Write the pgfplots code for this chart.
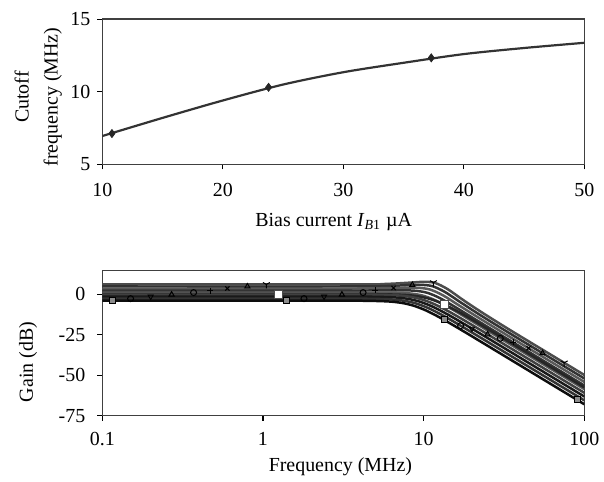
\documentclass[border=0pt]{standalone}
\usepackage{fontspec}
\setmainfont{Liberation Serif}
\usepackage{pgfplots}
\pgfplotsset{compat=1.18}
\usetikzlibrary{plotmarks}

\pgfplotsset{
  excelbox/.style={
    scale only axis,
    width=241bp, height=72.5bp,
    axis line style={black!75, line width=0.8pt},
    tick align=outside,
    xtick pos=bottom, ytick pos=left,
    major tick length=2.5bp,
    tick style={black, line width=0.6pt},
    /pgf/number format/assume math mode=true,
    tick label style={font=\fontsize{10}{12}\selectfont},
    label style={font=\fontsize{10}{12}\selectfont},
  },
  gline/.style={no marks, smooth, line width=1.25pt},
  gmark/.style={only marks, mark size=1.5pt, mark options={solid, line width=0.5pt}},
}

\begin{document}
\begin{tikzpicture}
\useasboundingbox (-51.15bp,-33.15bp) rectangle (250.85bp,207.85bp);

% ---- top: cutoff frequency vs bias current
\begin{axis}[
    excelbox,
    at={(0,125.7bp)}, anchor=south west,
    xmin=10, xmax=50, ymin=5, ymax=15,
    xtick={10,20,30,40,50}, ytick={5,10,15},
    xticklabel shift=3.5bp,
    xlabel={Bias current \textit{I}\textsubscript{\textit{B}1} µA},
    ylabel={Cutoff\\[2.5bp]frequency (MHz)},
    xlabel style={at={(axis description cs:0.48,-0.40)}, anchor=center},
    ylabel style={at={(axis description cs:-0.133,0.464)}, anchor=center, align=center},
]
\addplot[gline, black!80, line width=1.1pt] coordinates {
  (10,6.95) (15,8.2) (20,9.4) (25,10.5) (30,11.35) (35,12.0) (40,12.6) (45,13.02) (50,13.38)
};
\addplot[only marks, mark=diamond*, mark size=2pt, black!85] coordinates {
  (10.8,7.12) (23.8,10.31) (37.3,12.34)
};
\end{axis}

% ---- bottom: gain vs frequency
\begin{axis}[
    excelbox,
    at={(0,0)}, anchor=south west,
    xmode=log, xmin=0.1, xmax=100, ymin=-75, ymax=14.5,
    xtick={0.1,1,10,100}, xticklabels={0.1,1,10,100},
    xminorticks=false,
    ytick={-75,-50,-25,0}, yticklabels={-75,-50,-25,0},
    xticklabel shift=2.5bp, yticklabel shift=2.5bp,
    xlabel={Frequency (MHz)},
    ylabel={Gain (dB)},
    xlabel style={at={(axis description cs:0.494,-0.354)}, anchor=center},
    ylabel style={at={(axis description cs:-0.154,0.371)}, anchor=center},
]
% k8
\addplot[gline, black!70] coordinates {
  (0.1,6) (3.52,6) (5.86,6.33) (8.20,7.12) (9.96,7.61) (11.72,6.99) (14.06,3.2) (17.58,-3.53) (23.44,-11.73) (35.16,-22.63) (58.6,-35.94) (93.76,-48.19) (100,-49.86)
};
% k7
\addplot[gline, black!80] coordinates {
  (0.1,4.75) (3.40,4.75) (5.67,5.0) (7.93,5.55) (9.63,5.76) (11.33,4.94) (13.60,1.31) (17.0,-5.06) (22.66,-13.06) (33.99,-23.88) (56.65,-37.19) (90.64,-49.44) (100,-52.0)
};
% k6
\addplot[gline, black!65] coordinates {
  (0.1,3.5) (3.28,3.5) (5.47,3.67) (7.66,3.98) (9.30,3.91) (10.94,2.89) (13.13,-0.58) (16.41,-6.59) (21.88,-14.39) (32.82,-25.13) (54.7,-38.44) (87.52,-50.69) (100,-54.16)
};
% k5
\addplot[gline, black!80] coordinates {
  (0.1,2.25) (3.17,2.25) (5.28,2.34) (7.39,2.41) (8.97,2.06) (10.55,0.84) (12.66,-2.47) (15.83,-8.12) (21.1,-15.72) (31.65,-26.38) (52.75,-39.69) (84.4,-51.94) (100,-56.35)
};
% k4
\addplot[gline, black!65] coordinates {
  (0.1,1) (3.05,1) (5.08,1.01) (7.11,0.84) (8.64,0.21) (10.16,-1.21) (12.19,-4.36) (15.24,-9.65) (20.32,-17.05) (30.48,-27.63) (50.8,-40.94) (81.28,-53.19) (100,-58.59)
};
% white-square series
\addplot[gline, black!85] coordinates {
  (0.1,0) (3.3,0) (5.5,-0.07) (7.7,-0.48) (9.35,-1.39) (11,-3.01) (13.2,-6.0) (16.5,-10.93) (22,-18.13) (33,-28.63) (55,-41.94) (88,-54.19) (100,-57.52)
};
% k3
\addplot[gline, black!75] coordinates {
  (0.1,-0.25) (2.93,-0.25) (4.89,-0.32) (6.84,-0.73) (8.30,-1.64) (9.77,-3.26) (11.72,-6.25) (14.66,-11.18) (19.54,-18.38) (29.31,-28.88) (48.85,-42.19) (78.16,-54.44) (100,-60.86)
};
% k2
\addplot[gline, black!90] coordinates {
  (0.1,-1.5) (2.81,-1.5) (4.69,-1.57) (6.57,-1.98) (7.97,-2.89) (9.38,-4.51) (11.26,-7.5) (14.07,-12.43) (18.76,-19.63) (28.14,-30.13) (46.9,-43.44) (75.04,-55.69) (100,-63.17)
};
% k1
\addplot[gline, black!80] coordinates {
  (0.1,-2.75) (2.70,-2.75) (4.50,-2.82) (6.29,-3.23) (7.64,-4.14) (8.99,-5.76) (10.79,-8.75) (13.49,-13.68) (17.98,-20.88) (26.97,-31.38) (44.95,-44.69) (71.92,-56.94) (100,-65.52)
};
% k0
\addplot[gline, black!95] coordinates {
  (0.1,-4) (2.58,-4) (4.3,-4.07) (6.02,-4.48) (7.31,-5.39) (8.6,-7.01) (10.32,-10.0) (12.9,-14.93) (17.2,-22.13) (25.8,-32.63) (43,-45.94) (68.8,-58.19) (100,-67.93)
};
% markers
\addplot[gmark, mark=square*, mark options={fill=black!45, draw=black}] coordinates {
  (0.115,-4) (1.4,-4) (13.4,-15.85) (90,-65.2)
};
\addplot[gmark, mark=o, black] coordinates {
  (0.15,-2.75) (1.8,-2.75) (17,-19.45)
};
\addplot[gmark, mark=triangle, mark options={rotate=180}, black] coordinates {
  (0.2,-1.5) (2.4,-1.5) (20,-21.27)
};
\addplot[gmark, mark=triangle, black] coordinates {
  (0.27,-0.25) (3.1,-0.25) (25,-24.75)
};
\addplot[gmark, mark=o, black] coordinates {
  (0.37,1) (4.2,1.0) (30,-27.22)
};
\addplot[gmark, mark=+, black] coordinates {
  (0.47,2.25) (5,2.34) (36,-29.73)
};
\addplot[gmark, mark=x, black] coordinates {
  (0.6,3.5) (6.5,3.84) (45,-33.35)
};
\addplot[gmark, mark=triangle, black] coordinates {
  (0.8,4.75) (8.5,5.70) (55,-36.42)
};
\addplot[gmark, mark=Mercedes star flipped, mark size=2pt, black] coordinates {
  (1.05,6) (11.5,7.15) (75,-42.37)
};
\addplot[gmark, mark=square*, mark size=2pt, mark options={fill=white, draw=black!70}] coordinates {
  (1.25,0) (13.5,-6.44)
};
\end{axis}
\end{tikzpicture}
\end{document}
